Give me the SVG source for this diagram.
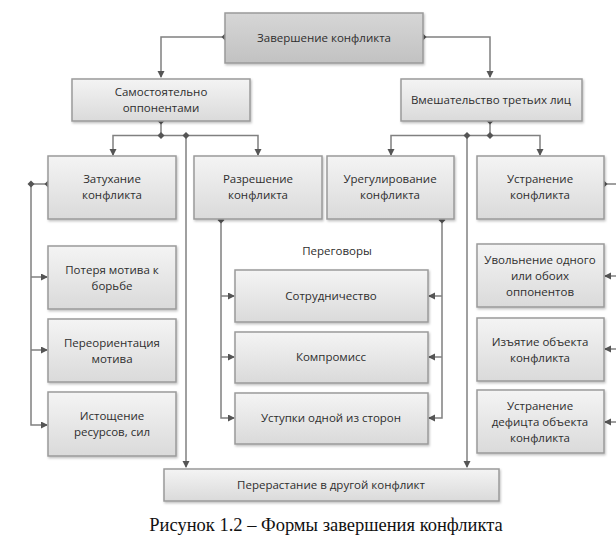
<svg xmlns="http://www.w3.org/2000/svg" width="616" height="557" viewBox="0 0 616 557">
<defs>
<linearGradient id="g" x1="0" y1="0" x2="0" y2="1">
<stop offset="0" stop-color="#f4f4f4"/>
<stop offset="1" stop-color="#dadada"/>
</linearGradient>
<linearGradient id="gd" x1="0" y1="0" x2="0" y2="1">
<stop offset="0" stop-color="#d6d6d6"/>
<stop offset="1" stop-color="#c2c2c2"/>
</linearGradient>
<filter id="sh" x="-5%" y="-5%" width="112%" height="120%">
<feDropShadow dx="1" dy="1.5" stdDeviation="0.8" flood-color="#000" flood-opacity="0.25"/>
</filter>
<marker id="arr" markerWidth="8" markerHeight="8" refX="6" refY="3.5" orient="auto" markerUnits="userSpaceOnUse">
<path d="M0,0 L7,3.5 L0,7 Z" fill="#555"/>
</marker>
<path id="d" d="M0,-3.5 L3.5,0 L0,3.5 L-3.5,0 Z" fill="#555"/>
</defs>
<style>
.box{fill:url(#g);stroke:#9a9a9a;stroke-width:1.5;filter:url(#sh)}
.dark{fill:url(#gd)}
.t{font-family:"Open Sans","Noto Sans","Liberation Sans",sans-serif;font-size:11.5px;fill:#2e2e2e;text-anchor:middle}
.c{fill:none;stroke:#808080;stroke-width:1.5}
.a{marker-end:url(#arr)}
.cap{font-family:"Liberation Serif","Times New Roman",serif;font-size:18.5px;fill:#111;text-anchor:middle}
</style>

<g id="connectors">
<path class="c a" d="M225,37 H161 V77"/>
<path class="c a" d="M423,37 H490 V77"/>
<path class="c" d="M161,121 V135.5"/>
<path class="c a" d="M161,135.5 H113 V155"/>
<path class="c a" d="M161,135.5 H258 V155"/>
<path class="c a" d="M186,135.5 V467"/>
<path class="c" d="M490,121 V135.5"/>
<path class="c a" d="M490,135.5 H391 V155"/>
<path class="c a" d="M490,135.5 H540 V155"/>
<path class="c a" d="M467,135.5 V467"/>
<path class="c a" d="M48,184 H31 V425 H47"/>
<path class="c a" d="M31,277 H47"/>
<path class="c a" d="M31,350 H47"/>
<path class="c a" d="M221,220 V418 H234"/>
<path class="c a" d="M221,296 H234"/>
<path class="c a" d="M221,357 H234"/>
<path class="c a" d="M442,220 V418 H429"/>
<path class="c a" d="M442,296 H429"/>
<path class="c a" d="M442,357 H429"/>
<path class="c a" d="M604,184 H619 V422 H605"/>
<path class="c a" d="M619,276 H605"/>
<path class="c a" d="M619,349 H605"/>
<use href="#d" x="225" y="37"/>
<use href="#d" x="423" y="37"/>
<use href="#d" x="161" y="121"/>
<use href="#d" x="161" y="135.5"/>
<use href="#d" x="186" y="135.5"/>
<use href="#d" x="490" y="121"/>
<use href="#d" x="490" y="135.5"/>
<use href="#d" x="467" y="135.5"/>
<use href="#d" x="48" y="184"/>
<use href="#d" x="31" y="184"/>
<use href="#d" x="221" y="220"/>
<use href="#d" x="442" y="220"/>
<use href="#d" x="604" y="184"/>
</g>

<g id="n-top"><rect class="box dark" x="225" y="13" width="198" height="50"/><text class="t" x="324" y="42">Завершение конфликта</text></g>
<g id="n-self"><rect class="box" x="72" y="79" width="178" height="42"/><text class="t" x="161" y="96">Самостоятельно</text><text class="t" x="161" y="112">оппонентами</text></g>
<g id="n-third"><rect class="box" x="401" y="79" width="181" height="42"/><text class="t" x="491" y="104">Вмешательство третьих лиц</text></g>
<g id="n-fade"><rect class="box" x="48" y="156" width="128" height="63"/><text class="t" x="112" y="183">Затухание</text><text class="t" x="112" y="199">конфликта</text></g>
<g id="n-resolve"><rect class="box" x="194" y="156" width="128" height="63"/><text class="t" x="258" y="183">Разрешение</text><text class="t" x="258" y="199">конфликта</text></g>
<g id="n-settle"><rect class="box" x="327" y="156" width="127" height="63"/><text class="t" x="390" y="183">Урегулирование</text><text class="t" x="390" y="199">конфликта</text></g>
<g id="n-elim"><rect class="box" x="477" y="156" width="127" height="63"/><text class="t" x="540" y="183">Устранение</text><text class="t" x="540" y="199">конфликта</text></g>
<g id="n-loss"><rect class="box" x="48" y="246" width="128" height="63"/><text class="t" x="112" y="273.5">Потеря мотива к</text><text class="t" x="112" y="289.5">борьбе</text></g>
<g id="n-reorient"><rect class="box" x="48" y="319" width="128" height="63"/><text class="t" x="112" y="346.5">Переориентация</text><text class="t" x="112" y="362.5">мотива</text></g>
<g id="n-exhaust"><rect class="box" x="48" y="392" width="128" height="64"/><text class="t" x="112" y="420">Истощение</text><text class="t" x="112" y="436">ресурсов, сил</text></g>
<g id="n-negot"><text class="t" x="337" y="255">Переговоры</text></g>
<g id="n-coop"><rect class="box" x="235" y="270" width="193" height="52"/><text class="t" x="331" y="300">Сотрудничество</text></g>
<g id="n-comp"><rect class="box" x="235" y="332" width="193" height="51"/><text class="t" x="331" y="361">Компромисс</text></g>
<g id="n-conc"><rect class="box" x="235" y="393" width="193" height="51"/><text class="t" x="331" y="422">Уступки одной из сторон</text></g>
<g id="n-dismiss"><rect class="box" x="477" y="244" width="127" height="63"/><text class="t" x="540" y="263.5">Увольнение одного</text><text class="t" x="540" y="279.5">или обоих</text><text class="t" x="540" y="295.5">оппонентов</text></g>
<g id="n-seize"><rect class="box" x="477" y="318" width="127" height="63"/><text class="t" x="540" y="345.5">Изъятие объекта</text><text class="t" x="540" y="361.5">конфликта</text></g>
<g id="n-deficit"><rect class="box" x="477" y="390" width="127" height="63"/><text class="t" x="540" y="409.5">Устранение</text><text class="t" x="540" y="425.5">дефицта объекта</text><text class="t" x="540" y="441.5">конфликта</text></g>
<g id="n-grow"><rect class="box" x="164" y="469" width="335" height="32"/><text class="t" x="331" y="489">Перерастание в другой конфликт</text></g>

<text class="cap" x="326" y="531">Рисунок 1.2 – Формы завершения конфликта</text>
</svg>
